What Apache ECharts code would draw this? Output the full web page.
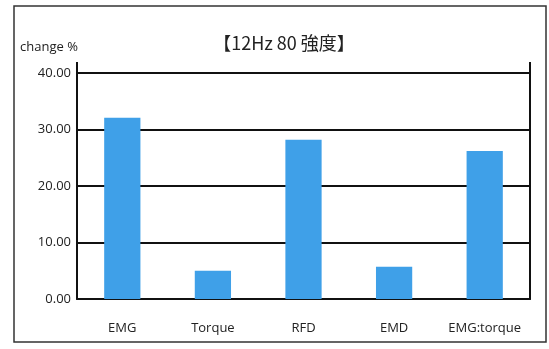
<!DOCTYPE html>
<html>
<head>
<meta charset="utf-8">
<script src="https://cdn.jsdelivr.net/npm/echarts@6/dist/echarts.min.js"></script>
<style>
  html, body { margin: 0; padding: 0; background: #fff; }
  #main { width: 549px; height: 349px; }
</style>
</head>
<body>
<div id="main"></div>
<script>
// 数据
var categories = ['EMG', 'Torque', 'RFD', 'EMD', 'EMG:torque'];
var values = [32.1, 5.0, 28.2, 5.7, 26.2];
var yTicks = [0, 10, 20, 30, 40];

var myChart = echarts.init(document.getElementById('main'));
var font = '"Open Sans", "Noto Sans", sans-serif';

var option = {
    animation: false,
    backgroundColor: '#fff',
    title: {
        text: '【12Hz 80 強度】',
        left: 279,
        textAlign: 'center',
        top: 29,
        textStyle: {
            fontFamily: '"Noto Sans CJK JP", sans-serif',
            fontSize: 18,
            fontWeight: 'normal',
            color: '#222'
        }
    },
    grid: { left: 77, right: 19, top: 73, bottom: 50 },
    xAxis: {
        type: 'category',
        data: categories,
        axisLine: { lineStyle: { color: '#111', width: 2 } },
        axisTick: { show: false },
        axisLabel: { interval: 0, hideOverlap: false, margin: 23, fontFamily: font, fontSize: 13, color: '#222' }
    },
    yAxis: [{
        type: 'value',
        min: yTicks[0],
        max: yTicks[yTicks.length - 1],
        interval: 10,
        name: 'change %',
        nameLocation: 'end',
        nameGap: 19,
        nameTextStyle: { fontFamily: font, fontSize: 13, color: '#222', align: 'right', padding: [0, -1, 0, 0] },
        axisLine: { show: true, lineStyle: { color: '#111', width: 2 } },
        axisTick: { show: false },
        axisLabel: {
            margin: 6,
            fontFamily: font, fontSize: 13, color: '#222',
            formatter: function (v) { return v.toFixed(2); }
        },
        splitLine: { lineStyle: { color: '#111', width: 2 } }
    }, {
        type: 'value',
        position: 'right',
        min: yTicks[0],
        max: yTicks[yTicks.length - 1],
        interval: 10,
        axisLine: { show: true, lineStyle: { color: '#111', width: 2 } },
        axisTick: { show: false },
        axisLabel: { show: false },
        splitLine: { show: false }
    }],
    series: [{
        type: 'bar',
        data: values,
        barWidth: '40%',
        itemStyle: { color: '#3fa0e8' }
    }],
    graphic: [
        // 外框
        { type: 'rect', shape: { x: 14, y: 6, width: 532, height: 336 }, style: { fill: 'none', stroke: '#333', lineWidth: 1.5 }, z: -1 },
        // 轴线上方延伸
        { type: 'line', shape: { x1: 77, y1: 62, x2: 77, y2: 74 }, style: { stroke: '#111', lineWidth: 2 } },
        { type: 'line', shape: { x1: 530, y1: 62, x2: 530, y2: 74 }, style: { stroke: '#111', lineWidth: 2 } }
    ]
};

myChart.setOption(option);
</script>
</body>
</html>
